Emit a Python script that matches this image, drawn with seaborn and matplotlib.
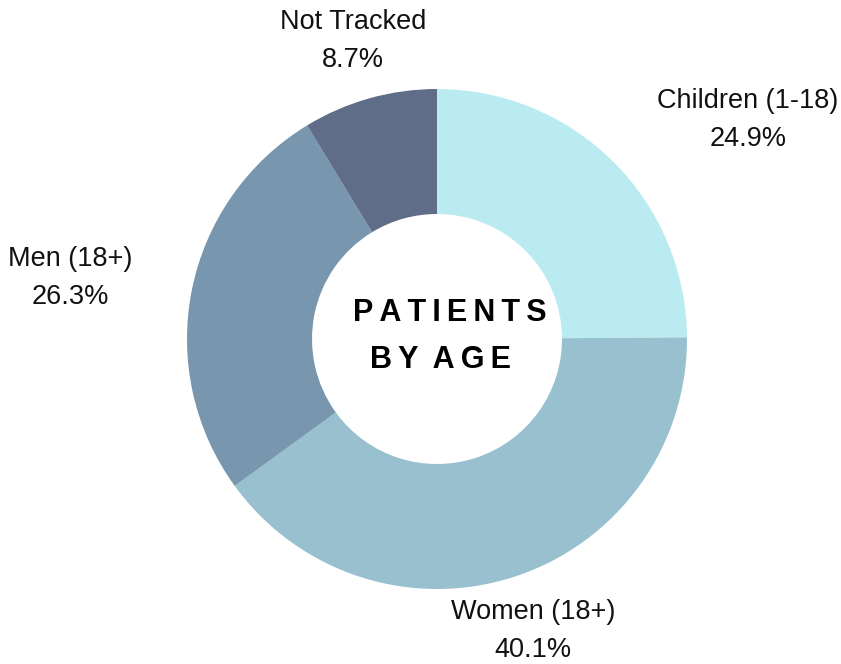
import matplotlib
matplotlib.use("Agg")
import matplotlib.pyplot as plt
import seaborn as sns

sns.set_theme(style="white")
plt.rcParams["font.family"] = ["Liberation Sans", "DejaVu Sans"]

# data
categories = ["Children (1-18)", "Women (18+)", "Men (18+)", "Not Tracked"]
shares = [24.9, 40.1, 26.3, 8.7]
colors = ["#b9ebf0", "#98c0cf", "#7896ae", "#5f6d89"]

# label anchor points in pixel space (x, y from top)
label_pos = [(748, 120), (533, 631), (70, 278), (353, 41)]

W, H = 841, 664
fig = plt.figure(figsize=(W / 100, H / 100), dpi=100)
ax = fig.add_axes([0, 0, 1, 1])

ax.pie(shares, colors=colors, startangle=90, counterclock=False,
       center=(437, H - 339), radius=250,
       wedgeprops=dict(width=125, edgecolor="none"))

for name, val, (px, py) in zip(categories, shares, label_pos):
    ax.text(px, H - py, f"{name}\n{val:.1f}%", ha="center", va="center",
            fontsize=19.5, color="#111111", linespacing=1.6)

thin = "\u2009"
ax.text(450, H - 313, thin.join("PATIENTS"), ha="center", va="center",
        fontsize=22, fontweight="bold", color="#000000")
ax.text(441, H - 360, thin.join("BY") + " " + thin + thin.join("AGE"),
        ha="center", va="center", fontsize=22, fontweight="bold",
        color="#000000")

ax.set_xlim(0, W)
ax.set_ylim(0, H)
ax.set_aspect("equal")
ax.axis("off")

fig.savefig("out.png", dpi=100, facecolor="white")
